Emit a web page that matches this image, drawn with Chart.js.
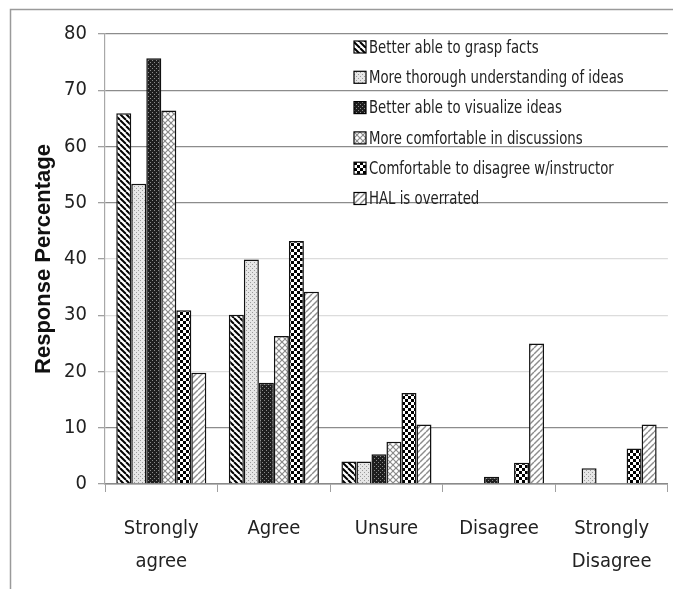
<!DOCTYPE html>
<html>
<head>
<meta charset="utf-8">
<script src="https://cdn.jsdelivr.net/npm/chart.js@4/dist/chart.umd.min.js"></script>
<style>
  html, body { margin: 0; padding: 0; background: #fff; }
  #wrap { width: 673px; height: 589px; }
</style>
</head>
<body>
<div id="wrap"><canvas id="chart"></canvas></div>
<script>
// data
const categories = [["Strongly", "agree"], "Agree", "Unsure", "Disagree", ["Strongly", "Disagree"]];
const seriesNames = [
  "Better able to grasp facts",
  "More thorough understanding of ideas",
  "Better able to visualize ideas",
  "More comfortable in discussions",
  "Comfortable to disagree w/instructor",
  "HAL is overrated",
];
const graspFacts = [65.9, 30.1, 4.0, 0, 0];
const thoroughIdeas = [53.4, 39.9, 4.0, 0, 2.8];
const visualizeIdeas = [75.7, 18.0, 5.3, 1.3, 0];
const comfortDiscuss = [66.4, 26.3, 7.5, 0, 0];
const disagreeInstructor = [30.9, 43.2, 16.2, 3.8, 6.3];
const halOverrated = [19.8, 34.2, 10.6, 25.0, 10.6];

const narrow = "'DejaVu Sans Condensed', 'Liberation Sans', sans-serif";

// fill patterns (black & white like the printed figure)
const makeTile = (size, draw) => {
  const c = document.createElement("canvas");
  c.width = size;
  c.height = size;
  const g = c.getContext("2d");
  g.fillStyle = "#fff";
  g.fillRect(0, 0, size, size);
  draw(g, size);
  return document.createElement("canvas").getContext("2d").createPattern(c, "repeat");
};

const diagLines = (g, s, color, width, dir) => {
  g.strokeStyle = color;
  g.lineWidth = width;
  for (let o = -s; o <= s; o += s) {
    g.beginPath();
    if (dir > 0) {
      g.moveTo(o, s);
      g.lineTo(o + s, 0);
    } else {
      g.moveTo(o, 0);
      g.lineTo(o + s, s);
    }
    g.stroke();
  }
};

const patterns = [
  // back slash stripes
  makeTile(6, (g, s) => diagLines(g, s, "#000", 2, -1)),
  // light dots
  makeTile(4, (g) => {
    g.fillStyle = "#e6e6e6";
    g.fillRect(0, 0, 4, 4);
    g.fillStyle = "#9a9a9a";
    g.fillRect(0, 0, 1, 1);
    g.fillRect(2, 2, 1, 1);
  }),
  // dark dots
  makeTile(4, (g) => {
    g.fillStyle = "#1e1e1e";
    g.fillRect(0, 0, 4, 4);
    g.fillStyle = "#8a8a8a";
    g.fillRect(0, 0, 1, 1);
    g.fillRect(2, 2, 1, 1);
  }),
  // diamond crosshatch
  makeTile(6, (g, s) => {
    diagLines(g, s, "#8a8a8a", 1.2, 1);
    diagLines(g, s, "#8a8a8a", 1.2, -1);
  }),
  // checkerboard
  makeTile(6, (g) => {
    g.fillStyle = "#000";
    g.fillRect(0, 0, 3, 3);
    g.fillRect(3, 3, 3, 3);
  }),
  // forward slash light lines
  makeTile(6, (g, s) => diagLines(g, s, "#8c8c8c", 1.4, 1)),
];

const seriesData = [graspFacts, thoroughIdeas, visualizeIdeas, comfortDiscuss, disagreeInstructor, halOverrated];

// white background + frame
const framePlugin = {
  id: "frame",
  beforeDraw: (chart) => {
    const ctx = chart.ctx;
    ctx.save();
    ctx.fillStyle = "#fff";
    ctx.fillRect(0, 0, chart.width, chart.height);
    ctx.strokeStyle = "#9a9a9a";
    ctx.lineWidth = 1.5;
    ctx.beginPath();
    ctx.moveTo(10.5, chart.height);
    ctx.lineTo(10.5, 9.5);
    ctx.lineTo(chart.width, 9.5);
    ctx.stroke();
    ctx.restore();
  },
};

// legend drawn inside the plot, one column, text a bit squeezed like the original
const legendPlugin = {
  id: "insideLegend",
  afterDatasetsDraw: (chart) => {
    const ctx = chart.ctx;
    ctx.save();
    ctx.textBaseline = "middle";
    chart.data.datasets.forEach((ds, i) => {
      const y = 47 + i * 30.3;
      ctx.fillStyle = ds.backgroundColor;
      ctx.fillRect(354, y - 6, 12, 12);
      ctx.strokeStyle = "#000";
      ctx.lineWidth = 1.2;
      ctx.strokeRect(354, y - 6, 12, 12);
      ctx.save();
      ctx.translate(369, y + 1);
      ctx.scale(0.82, 1);
      ctx.font = "18px " + narrow;
      ctx.fillStyle = "#222";
      ctx.fillText(ds.label, 0, 0);
      ctx.restore();
    });
    ctx.restore();
  },
};

new Chart(document.querySelector("#chart").getContext("2d"), {
  type: "bar",
  data: {
    labels: categories,
    datasets: seriesNames.map((name, i) => ({
      label: name,
      data: seriesData[i],
      backgroundColor: patterns[i],
      borderColor: "#111",
      borderWidth: 1.5,
      categoryPercentage: 0.8,
      barPercentage: 1.0,
    })),
  },
  options: {
    responsive: true,
    maintainAspectRatio: false,
    animation: false,
    layout: {
      padding: { left: 0, right: 5, top: 34, bottom: 0 },
    },
    plugins: {
      legend: { display: false },
      tooltip: { enabled: false },
    },
    scales: {
      x: {
        grid: {
          offset: true,
          drawOnChartArea: false,
          drawTicks: true,
          tickLength: 8,
          tickColor: "#a0a0a0",
        },
        border: { display: true, color: "#8a8a8a", width: 1.5 },
        ticks: {
          color: "#222",
          padding: 21,
          font: { family: narrow, size: 20, lineHeight: 1.62 },
        },
        afterFit: (scale) => {
          scale.height = 105;
        },
      },
      y: {
        min: 0,
        max: 80,
        ticks: {
          stepSize: 10,
          color: "#222",
          padding: 11,
          font: { family: narrow, size: 20 },
        },
        grid: {
          color: (c) => ([20, 30, 40].includes(c.tick.value) ? "#dcdcdc" : "#8c8c8c"),
          lineWidth: 1.3,
          tickLength: 7,
          tickColor: "#a0a0a0",
        },
        border: { display: true, color: "#a8a8a8", width: 1.2 },
        title: {
          display: true,
          text: "Response Percentage",
          color: "#111",
          padding: { top: 31, bottom: 0 },
          font: { family: "'Liberation Sans', Arial, sans-serif", size: 22, weight: "bold" },
        },
        afterFit: (scale) => {
          scale.width = 105;
        },
      },
    },
  },
  plugins: [framePlugin, legendPlugin],
});
</script>
</body>
</html>
